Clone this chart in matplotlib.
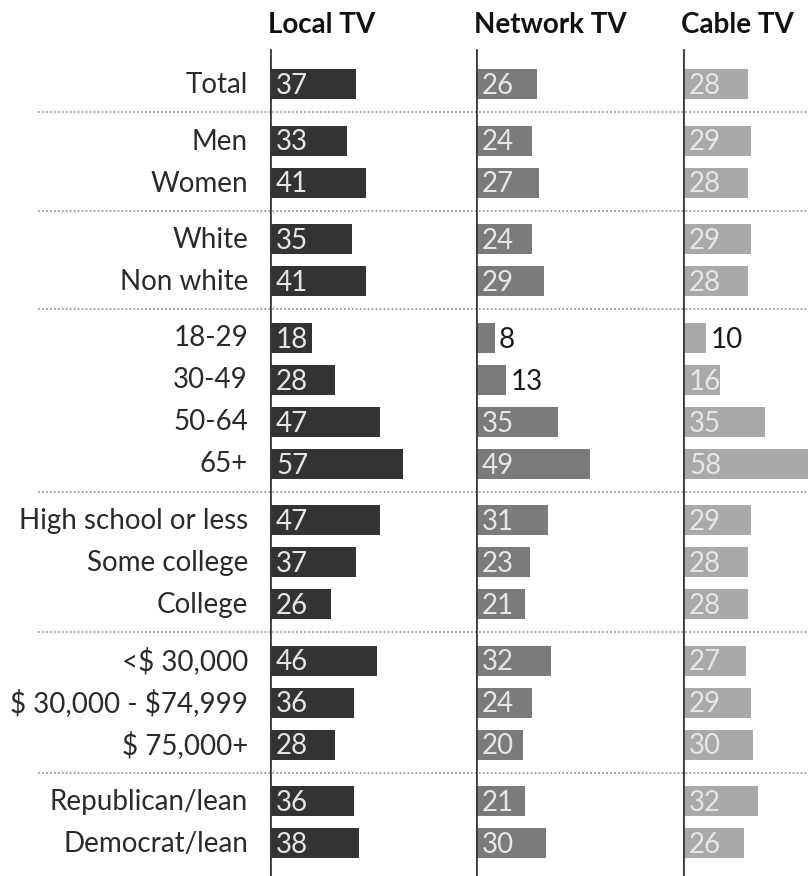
import matplotlib
matplotlib.use("Agg")
import matplotlib.pyplot as plt

# ---- data -------------------------------------------------------------
groups = [
    ["Total"],
    ["Men", "Women"],
    ["White", "Non white"],
    ["18-29", "30-49", "50-64", "65+"],
    ["High school or less", "Some college", "College"],
    [r"<\$ 30,000", r"\$ 30,000 - \$74,999", r"\$ 75,000+"],
    ["Republican/lean", "Democrat/lean"],
]
local_tv   = [37, 33, 41, 35, 41, 18, 28, 47, 57, 47, 37, 26, 46, 36, 28, 36, 38]
network_tv = [26, 24, 27, 24, 29, 8, 13, 35, 49, 31, 23, 21, 32, 24, 20, 21, 30]
cable_tv   = [28, 29, 28, 29, 28, 10, 16, 35, 58, 29, 28, 28, 27, 29, 30, 32, 26]
panel_titles = ["Local TV", "Network TV", "Cable TV"]

# ---- layout (pixels of the 808x876 canvas) ----------------------------
W, H = 808, 876
FIRST_Y, STEP, GAP = 84, 42, 14.5
PX_PER_UNIT = 2.33
PANEL_X = [270, 476, 683]
PANEL_COLORS = ["#333333", "#7b7b7b", "#a9a9a9"]
FONT = "Lato"
FS = 20

labels, ypos = [], []
y = FIRST_Y
for g in groups:
    for lab in g:
        labels.append(lab)
        ypos.append(y)
        y += STEP
    y += GAP

# separator midway between last row of a group and first row of next
seps = []
idx = 0
for g in groups[:-1]:
    idx += len(g)
    seps.append((ypos[idx - 1] + ypos[idx]) / 2)

fig = plt.figure(figsize=(W / 100, H / 100), dpi=100)
bg = fig.add_axes([0, 0, 1, 1])
bg.set_xlim(0, W)
bg.set_ylim(H, 0)
bg.axis("off")

for s in seps:
    bg.plot([38, W], [s, s], color="#9a9a9a", lw=1.3, ls=(0, (1, 1.2)), zorder=1)

for lab, yy in zip(labels, ypos):
    bg.text(248, yy + 1, lab, ha="right", va="center", fontsize=FS,
            family=FONT, color="#2a2a2a")

series = [local_tv, network_tv, cable_tv]
for k, (x0, vals, col, title) in enumerate(zip(PANEL_X, series, PANEL_COLORS, panel_titles)):
    width_px = (PANEL_X[k + 1] - x0) if k < 2 else (W - x0)
    ax = fig.add_axes([x0 / W, 0, width_px / W, 1])
    ax.set_xlim(0, width_px / PX_PER_UNIT)
    ax.set_ylim(H, 0)
    ax.patch.set_alpha(0)
    ax.axis("off")
    ax.barh(ypos, vals, height=30, color=col, zorder=2)
    ax.plot([0, 0], [50, H], color="#3a3a3a", lw=2, zorder=3)
    for v, yy in zip(vals, ypos):
        if v >= 15:
            ax.text(2.6, yy + 2, str(v), ha="left", va="center", fontsize=FS,
                    family=FONT, color="#e6e6e6", zorder=4)
        else:
            ax.text(v + 1.8, yy + 2, str(v), ha="left", va="center", fontsize=FS,
                    family=FONT, color="#1a1a1a", zorder=4)
    bg.text(x0 - 2, 25, title, ha="left", va="center", fontsize=FS,
            family=FONT, fontweight="bold", color="#111111")

fig.savefig("out.png", dpi=100)
